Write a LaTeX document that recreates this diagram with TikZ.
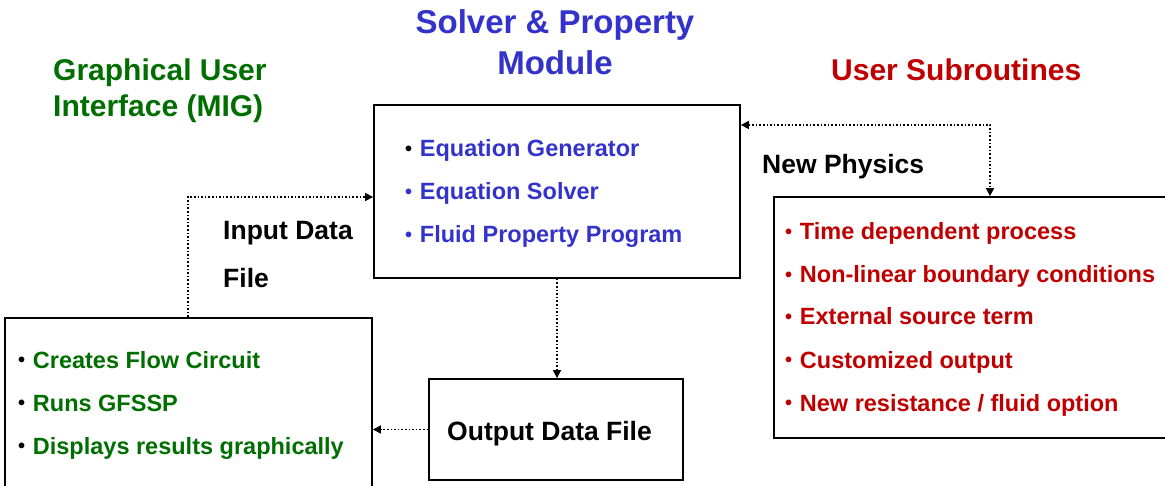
\documentclass[tikz,border=0pt]{standalone}
\usepackage{fontspec}
\setmainfont{Liberation Sans}
\usetikzlibrary{arrows.meta}

\definecolor{solverblue}{RGB}{51,51,204}
\definecolor{guigreen}{RGB}{0,110,0}
\definecolor{subred}{RGB}{192,0,0}

% small bullet as in the slide lists
\newcommand{\itembullet}{{\fontsize{20}{22}\selectfont\raisebox{1.3pt}{•}}\hspace{1.2pt}\ }

\tikzset{
  box/.style={draw, line width=1.8pt, inner sep=0pt},
  flow/.style={dotted, line width=1.6pt, -{Triangle[length=8pt,width=8pt]}},
  flowboth/.style={dotted, line width=1.6pt, {Triangle[length=8pt,width=8pt]}-{Triangle[length=8pt,width=8pt]}},
  item/.style={anchor=base west, inner sep=0pt, font=\fontsize{23.5}{28}\selectfont\bfseries},
  lbl/.style={anchor=base west, inner sep=0pt, font=\fontsize{26.5}{30}\selectfont\bfseries},
  headtext/.style={anchor=base west, inner sep=0pt, font=\fontsize{30}{36}\selectfont\bfseries}
}

\begin{document}
\begin{tikzpicture}[x=1pt, y=-1pt]

% Page frame
\useasboundingbox (0,0) rectangle (1165,486);
\clip (0,0) rectangle (1165,486);

% Define the boxes
\node[box, minimum width=366, minimum height=173] (solver) at (557,191.5) {};
\node[box, minimum width=367, minimum height=182] (gui) at (188.5,409) {};
\node[box, minimum width=254, minimum height=101] (output) at (556,429.5) {};
\node[box, minimum width=401, minimum height=241] (subs) at (974.5,317.5) {};

% Define the bend points
\coordinate (inbend) at (188,197);
\coordinate (subbend) at (990,125);

% Headings
\node[anchor=base, inner sep=0pt, font=\fontsize{33}{41}\selectfont\bfseries, solverblue] (solverhead) at (555,33.5) {Solver \& Property};
\node[anchor=base, inner sep=0pt, font=\fontsize{33}{41}\selectfont\bfseries, solverblue] (solverhead2) at (555,74.5) {Module};
\node[headtext, guigreen] (guihead) at (53,81) {Graphical User};
\node[headtext, guigreen] (guihead2) at (53,117) {Interface (MIG)};
\node[headtext, subred] (subhead) at (831,81) {User Subroutines};

% Connector labels
\node[lbl] (newphys) at (762,173.5) {New Physics};
\node[lbl] (indata) at (223,239.5) {Input Data};
\node[lbl] (indata2) at (223,287.5) {File};
\node[lbl] (outdata) at (447,440.5) {Output Data File};

% Solver list
\node[item, solverblue] (gen) at (405,157) {\textcolor{black}{\itembullet}Equation Generator};
\node[item, solverblue] (eqsolve) at (405,200) {\itembullet Equation Solver};
\node[item, solverblue] (fluidprop) at (405,243) {\itembullet Fluid Property Program};

% GUI list
\node[item, guigreen] (creates) at (18,368) {\textcolor{black}{\itembullet}Creates Flow Circuit};
\node[item, guigreen] (runs) at (18,411) {\textcolor{black}{\itembullet}Runs GFSSP};
\node[item, guigreen] (displays) at (18,454) {\textcolor{black}{\itembullet}Displays results graphically};

% Subroutine list
\node[item, subred] (timedep) at (785,240) {\itembullet Time dependent process};
\node[item, subred] (nonlin) at (785,283) {\itembullet Non-linear boundary conditions};
\node[item, subred] (source) at (785,325) {\itembullet External source term};
\node[item, subred] (custom) at (785,368) {\itembullet Customized output};
\node[item, subred] (resist) at (785,411) {\itembullet New resistance / fluid option};

% Draw the dotted connectors
\draw[flow] (inbend |- gui.north) -- (inbend) -- (inbend -| solver.west);
\draw[flowboth] (solver.east |- subbend) -- (subbend) -- (subbend |- subs.north);
\draw[flow] (solver.south) -- (solver.south |- output.north);
\draw[flow] (output.west) -- (output.west -| gui.east);

\end{tikzpicture}
\end{document}
